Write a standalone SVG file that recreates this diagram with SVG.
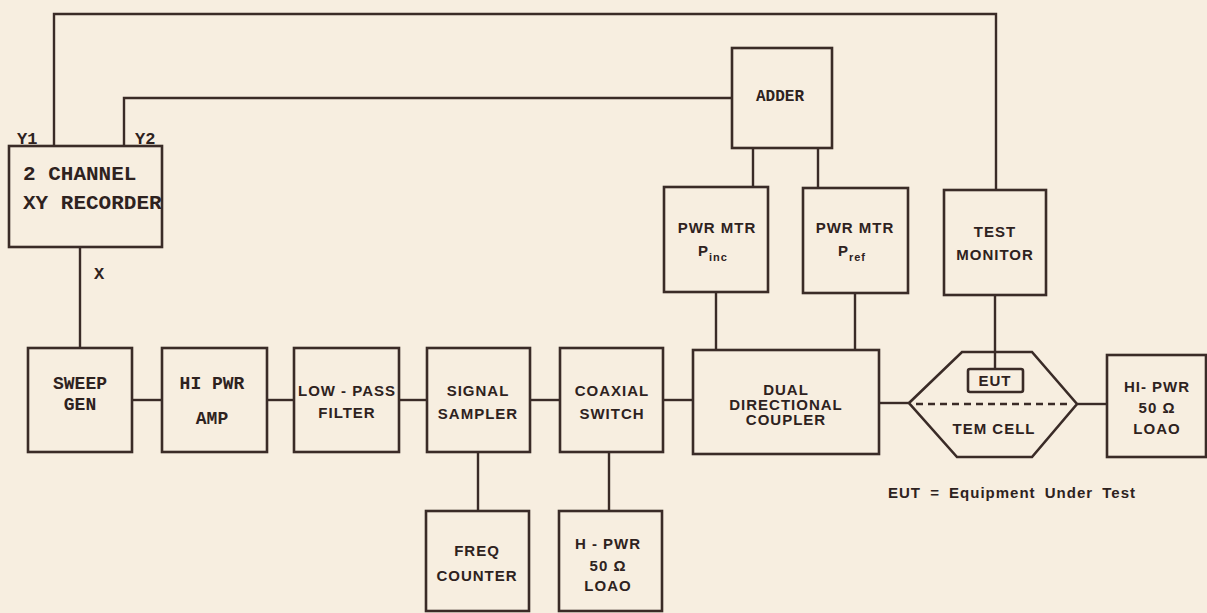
<svg xmlns="http://www.w3.org/2000/svg" width="1207" height="613" viewBox="0 0 1207 613">
<style>
.bg{fill:#f7eee0}
.box{fill:none;stroke:#3a2b27;stroke-width:2.6}
.ln{fill:none;stroke:#3a2b27;stroke-width:2.4}
.dash{fill:none;stroke:#3a2b27;stroke-width:2.4;stroke-dasharray:7 5}
.tw{font-family:"Liberation Mono",monospace;font-weight:bold;fill:#2e2220}
.ss{font-family:"Liberation Sans",Arial,sans-serif;font-weight:bold;fill:#2e2220;font-size:15px;letter-spacing:1px;text-anchor:middle}
.c{text-anchor:middle}
</style>
<rect class="bg" x="0" y="0" width="1207" height="613"/>
<g id="connectors">
<polyline class="ln" points="54,146 54,14 996,14 996,190"/>
<polyline class="ln" points="124,146 124,98 732,98"/>
<line class="ln" x1="80" y1="247" x2="80" y2="348"/>
<line class="ln" x1="132" y1="400" x2="162" y2="400"/>
<line class="ln" x1="267" y1="400" x2="294" y2="400"/>
<line class="ln" x1="399" y1="400" x2="427" y2="400"/>
<line class="ln" x1="530" y1="400" x2="560" y2="400"/>
<line class="ln" x1="663" y1="400" x2="693" y2="400"/>
<line class="ln" x1="478" y1="452" x2="478" y2="511"/>
<line class="ln" x1="609" y1="452" x2="609" y2="511"/>
<line class="ln" x1="753" y1="148" x2="753" y2="187"/>
<line class="ln" x1="818" y1="148" x2="818" y2="188"/>
<line class="ln" x1="716" y1="292" x2="716" y2="350"/>
<line class="ln" x1="855" y1="293" x2="855" y2="350"/>
<line class="ln" x1="995" y1="295" x2="995" y2="369"/>
<line class="ln" x1="879" y1="403" x2="909" y2="403"/>
<line class="ln" x1="1077" y1="404" x2="1107" y2="404"/>
</g>
<g id="recorder">
<rect class="box" x="9" y="146" width="153" height="101"/>
<text class="tw" x="23" y="180" font-size="21">2 CHANNEL</text>
<text class="tw" x="23" y="209" font-size="21">XY RECORDER</text>
<text class="tw" x="17" y="144" font-size="17">Y1</text>
<text class="tw" x="135" y="144" font-size="17">Y2</text>
<text class="tw" x="94" y="279" font-size="17">X</text>
</g>
<g id="sweep">
<rect class="box" x="28" y="348" width="104" height="104"/>
<text class="tw c" x="80" y="389" font-size="18">SWEEP</text>
<text class="tw c" x="80" y="410" font-size="18">GEN</text>
</g>
<g id="amp">
<rect class="box" x="162" y="348" width="105" height="104"/>
<text class="tw c" x="212" y="389" font-size="18">HI PWR</text>
<text class="tw c" x="212" y="424" font-size="18">AMP</text>
</g>
<g id="lowpass">
<rect class="box" x="294" y="348" width="105" height="104"/>
<text class="ss" x="347" y="396">LOW - PASS</text>
<text class="ss" x="347" y="418">FILTER</text>
</g>
<g id="sampler">
<rect class="box" x="427" y="348" width="103" height="104"/>
<text class="ss" x="478" y="396">SIGNAL</text>
<text class="ss" x="478" y="419">SAMPLER</text>
</g>
<g id="switch">
<rect class="box" x="560" y="348" width="103" height="104"/>
<text class="ss" x="612" y="396">COAXIAL</text>
<text class="ss" x="612" y="419">SWITCH</text>
</g>
<g id="coupler">
<rect class="box" x="693" y="350" width="186" height="104"/>
<text class="ss" x="786" y="395" font-size="13">DUAL</text>
<text class="ss" x="786" y="410" font-size="13">DIRECTIONAL</text>
<text class="ss" x="786" y="425" font-size="13">COUPLER</text>
</g>
<g id="counter">
<rect class="box" x="426" y="511" width="103" height="100"/>
<text class="ss" x="477" y="556">FREQ</text>
<text class="ss" x="477" y="581">COUNTER</text>
</g>
<g id="load1">
<rect class="box" x="559" y="511" width="103" height="100"/>
<text class="ss" x="608" y="549">H - PWR</text>
<text class="ss" x="608" y="571">50 Ω</text>
<text class="ss" x="608" y="591">LOAO</text>
</g>
<g id="adder">
<rect class="box" x="732" y="48" width="100" height="100"/>
<text class="tw c" x="780" y="101" font-size="16">ADDER</text>
</g>
<g id="pinc">
<rect class="box" x="664" y="187" width="104" height="105"/>
<text class="ss" x="717" y="233" font-size="13">PWR MTR</text>
<text class="ss" x="713" y="256" font-size="14">P<tspan font-size="11" dy="5">inc</tspan></text>
</g>
<g id="pref">
<rect class="box" x="803" y="188" width="105" height="105"/>
<text class="ss" x="855" y="233" font-size="13">PWR MTR</text>
<text class="ss" x="852" y="256" font-size="14">P<tspan font-size="11" dy="5">ref</tspan></text>
</g>
<g id="monitor">
<rect class="box" x="944" y="190" width="102" height="105"/>
<text class="ss" x="995" y="237" font-size="13">TEST</text>
<text class="ss" x="995" y="260" font-size="13">MONITOR</text>
</g>
<g id="temcell">
<polygon class="box" points="909,403 962,352 1032,352 1077,404 1032,457 957,457"/>
<line class="dash" x1="916" y1="404" x2="1072" y2="404"/>
<rect class="box" x="968" y="369" width="55" height="23" rx="2"/>
<text class="ss" x="995" y="386" font-size="14">EUT</text>
<text class="ss" x="994" y="434" font-size="15">TEM CELL</text>
</g>
<g id="load2">
<rect class="box" x="1107" y="355" width="99" height="102"/>
<text class="ss" x="1157" y="392" font-size="14">HI- PWR</text>
<text class="ss" x="1157" y="413" font-size="14">50 Ω</text>
<text class="ss" x="1157" y="434" font-size="14">LOAO</text>
</g>
<text class="ss" x="1012" y="498" font-size="13" word-spacing="4">EUT = Equipment Under Test</text>
</svg>
